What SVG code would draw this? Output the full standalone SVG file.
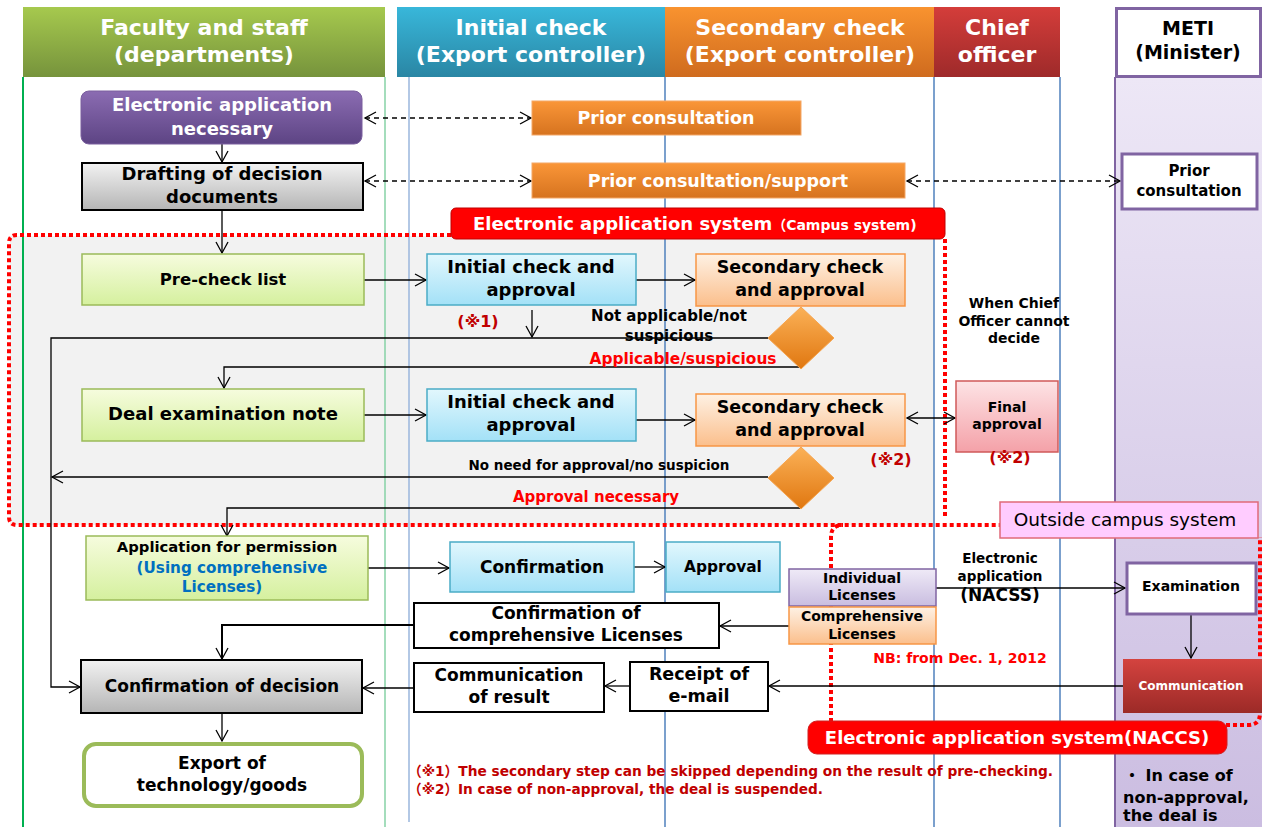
<svg xmlns="http://www.w3.org/2000/svg" width="1262" height="827" viewBox="0 0 1262 827">
<defs>
<linearGradient id="gHFac" x1="0" y1="0" x2="0" y2="1"><stop offset="0" stop-color="#a6c94e"/><stop offset="1" stop-color="#76933c"/></linearGradient>
<linearGradient id="gHIni" x1="0" y1="0" x2="0" y2="1"><stop offset="0" stop-color="#38b7da"/><stop offset="1" stop-color="#2a86a4"/></linearGradient>
<linearGradient id="gHSec" x1="0" y1="0" x2="0" y2="1"><stop offset="0" stop-color="#f9932f"/><stop offset="1" stop-color="#cf6b1e"/></linearGradient>
<linearGradient id="gHChi" x1="0" y1="0" x2="0" y2="1"><stop offset="0" stop-color="#d43d3a"/><stop offset="1" stop-color="#9e2a2a"/></linearGradient>
<linearGradient id="gMeti" x1="0" y1="0" x2="0" y2="1"><stop offset="0" stop-color="#ede7f6"/><stop offset="1" stop-color="#cbbde1"/></linearGradient>
<linearGradient id="gPurple" x1="0" y1="0" x2="0" y2="1"><stop offset="0" stop-color="#8b6cb2"/><stop offset="1" stop-color="#5d4484"/></linearGradient>
<linearGradient id="gGray" x1="0" y1="0" x2="0" y2="1"><stop offset="0" stop-color="#f2f2f2"/><stop offset="1" stop-color="#b5b5b5"/></linearGradient>
<linearGradient id="gOrange" x1="0" y1="0" x2="0" y2="1"><stop offset="0" stop-color="#fa9638"/><stop offset="1" stop-color="#d6731f"/></linearGradient>
<linearGradient id="gBlue" x1="0" y1="0" x2="0" y2="1"><stop offset="0" stop-color="#e2f7fd"/><stop offset="1" stop-color="#a3e1f7"/></linearGradient>
<linearGradient id="gOrL" x1="0" y1="0" x2="0" y2="1"><stop offset="0" stop-color="#fef1e4"/><stop offset="1" stop-color="#fbbf8c"/></linearGradient>
<linearGradient id="gGreen" x1="0" y1="0" x2="0" y2="1"><stop offset="0" stop-color="#f6fcde"/><stop offset="1" stop-color="#d5f09e"/></linearGradient>
<linearGradient id="gPink" x1="0" y1="0" x2="0" y2="1"><stop offset="0" stop-color="#fde3e5"/><stop offset="1" stop-color="#f4a1a8"/></linearGradient>
<linearGradient id="gPurL" x1="0" y1="0" x2="0" y2="1"><stop offset="0" stop-color="#efeaf7"/><stop offset="1" stop-color="#c9bde0"/></linearGradient>
<linearGradient id="gRed" x1="0" y1="0" x2="0" y2="1"><stop offset="0" stop-color="#d4433f"/><stop offset="1" stop-color="#9c2a27"/></linearGradient>
<linearGradient id="gDia" x1="0" y1="0" x2="0" y2="1"><stop offset="0" stop-color="#fbb157"/><stop offset="1" stop-color="#e07710"/></linearGradient>
<marker id="arr" markerWidth="14" markerHeight="14" refX="12" refY="7" orient="auto-start-reverse" markerUnits="userSpaceOnUse">
<path d="M1,1 L12,7 L1,13" fill="none" stroke="#000" stroke-width="1.3" stroke-dasharray="none"/>
</marker>
<style>
text{font-family:"DejaVu Sans","Noto Sans CJK JP",sans-serif;font-weight:bold;text-anchor:middle;fill:#000}
.hd{fill:#fff;font-size:22px}
.s18{font-size:18px}
.s17{font-size:17px}
.s15{font-size:15px}
.s14{font-size:14px}
.w{fill:#fff}
.red{fill:#ff0000}
.dred{fill:#c00000}
.con{fill:none;stroke:#000;stroke-width:1.3}
.arr{marker-end:url(#arr)}
.dash{stroke-dasharray:5 4;marker-start:url(#arr);marker-end:url(#arr)}
.lane{stroke-width:1.5}
.dot{fill:none;stroke:#ff0000;stroke-width:4;stroke-dasharray:4 3}
</style>
</defs>

<!-- lanes -->
<g id="lanes">
<rect x="1115" y="77" width="147" height="750" fill="url(#gMeti)"/>
<rect x="10" y="236" width="924" height="289" fill="#f2f2f2"/>
<line x1="23" y1="77" x2="23" y2="827" stroke="#00b050" stroke-width="2"/>
<line x1="385" y1="77" x2="385" y2="827" stroke="#86d2a6" class="lane"/>
<line x1="409" y1="60" x2="409" y2="822" stroke="#9ab6dc" class="lane"/>
<line x1="665" y1="77" x2="665" y2="827" stroke="#4f81bd" class="lane"/>
<line x1="934" y1="77" x2="934" y2="827" stroke="#4f81bd" class="lane"/>
<line x1="1060" y1="77" x2="1060" y2="827" stroke="#4f81bd" class="lane"/>
<line x1="1115" y1="77" x2="1115" y2="827" stroke="#8064a2" stroke-width="2"/>
</g>
<g id="hdr-faculty"><rect x="23" y="7" width="362" height="70" fill="url(#gHFac)"/><text class="hd" x="204" y="35">Faculty and staff</text><text class="hd" x="204" y="62">(departments)</text></g>
<g id="hdr-initial"><rect x="397" y="7" width="268" height="70" fill="url(#gHIni)"/><text class="hd" x="531" y="35">Initial check</text><text class="hd" x="531" y="62">(Export controller)</text></g>
<g id="hdr-secondary"><rect x="665" y="7" width="269" height="70" fill="url(#gHSec)"/><text class="hd" x="800" y="35">Secondary check</text><text class="hd" x="800" y="62">(Export controller)</text></g>
<g id="hdr-chief"><rect x="934" y="7" width="126" height="70" fill="url(#gHChi)"/><text class="hd" x="997" y="35">Chief</text><text class="hd" x="997" y="62">officer</text></g>
<g id="hdr-meti"><rect x="1116.5" y="8.5" width="144" height="68" fill="#fff" stroke="#8064a2" stroke-width="3"/><text x="1188" y="35" style="font-size:19px">METI</text><text x="1188" y="59" style="font-size:19px">(Minister)</text></g>

<!-- system regions -->
<g id="regions">
<path class="dot" d="M451,235 H17 Q9,235 9,243 V517 Q9,525 17,525 H1000"/>
<path class="dot" d="M945,239 V518"/>
<path class="dot" d="M831,722 V537 Q831,525 843,525"/>
<path class="dot" d="M1226,725 H1248 Q1260,725 1260,713 V537"/>
</g>

<!-- connectors -->
<g id="connectors">
<path class="con arr" d="M222,144 V162"/>
<path class="con arr" d="M222,210 V253"/>
<path class="con dash" d="M365,118 H531"/>
<path class="con dash" d="M365,181 H531"/>
<path class="con dash" d="M907,181 H1120"/>
<path class="con arr" d="M364,280 H426"/>
<path class="con arr" d="M636,280 H695"/>
<path class="con arr" d="M532,310 V337"/>
<path class="con arr" d="M768,338 H51 V687 H80"/>
<path class="con arr" d="M801,367 H224 V388"/>
<path class="con arr" d="M364,415 H426"/>
<path class="con arr" d="M636,420 H695"/>
<path class="con arr" d="M907,418 H955" style="marker-start:url(#arr)"/>
<path class="con arr" d="M768,477 H52"/>
<path class="con arr" d="M801,508 H227 V536"/>
<path class="con arr" d="M368,568 H449"/>
<path class="con arr" d="M634,567 H665"/>
<path class="con arr" d="M936,588 H1125"/>
<path class="con arr" d="M1191,614 V658"/>
<path class="con arr" d="M789,626 H720"/>
<path class="con arr" d="M414,625 H222 V659" style="stroke-width:2"/>
<path class="con arr" d="M1123,686 H769"/>
<path class="con arr" d="M630,686 H605"/>
<path class="con arr" d="M414,688 H363"/>
<path class="con arr" d="M222,713 V741"/>
</g>

<!-- nodes -->
<g id="n-elec-app"><rect x="81" y="91" width="281" height="53" rx="8" fill="url(#gPurple)" stroke="#7a5f9e"/><text class="s18 w" x="222" y="111">Electronic application</text><text class="s18 w" x="222" y="135">necessary</text></g>
<g id="n-drafting"><rect x="82" y="163" width="281" height="47" fill="url(#gGray)" stroke="#000" stroke-width="2"/><text class="s18" x="222" y="180">Drafting of decision</text><text class="s18" x="222" y="203">documents</text></g>
<g id="n-prior1"><rect x="532" y="101" width="269" height="34" fill="url(#gOrange)" stroke="#f4a766"/><text class="w" x="666" y="124" style="font-size:17.5px">Prior consultation</text></g>
<g id="n-prior2"><rect x="532" y="163" width="373" height="35" fill="url(#gOrange)" stroke="#f4a766"/><text class="w" x="718" y="187" style="font-size:17.5px">Prior consultation/support</text></g>
<g id="n-meti-prior"><rect x="1122" y="154" width="135" height="55" fill="#fff" stroke="#8064a2" stroke-width="3"/><text class="s15" x="1189" y="176">Prior</text><text class="s15" x="1189" y="196">consultation</text></g>
<g id="n-campus-label"><rect x="451" y="208" width="494" height="31" rx="5" fill="#ff0000" stroke="#c00000"/><text class="s18 w" x="473" y="230" style="text-anchor:start">Electronic application system<tspan style="font-size:14px">（Campus system)</tspan></text></g>

<g id="n-precheck"><rect x="82" y="254" width="282" height="51" fill="url(#gGreen)" stroke="#9bbb59" stroke-width="1.5"/><text x="223" y="285" style="font-size:16.5px">Pre-check list</text></g>
<g id="n-init1"><rect x="427" y="254" width="209" height="51" fill="url(#gBlue)" stroke="#4bacc6" stroke-width="1.5"/><text class="s18" x="531" y="273">Initial check and</text><text class="s18" x="531" y="296">approval</text></g>
<g id="n-sec1"><rect x="696" y="254" width="209" height="52" fill="url(#gOrL)" stroke="#f79646" stroke-width="1.5"/><text x="800" y="273" style="font-size:17.5px">Secondary check</text><text x="800" y="296" style="font-size:17.5px">and approval</text></g>
<g id="n-dia1"><path d="M801,307 L834,338 L801,369 L768,338 Z" fill="url(#gDia)" stroke="#f6a550"/></g>
<g id="n-deal"><rect x="82" y="389" width="282" height="52" fill="url(#gGreen)" stroke="#9bbb59" stroke-width="1.5"/><text class="s18" x="223" y="420">Deal examination note</text></g>
<g id="n-init2"><rect x="427" y="389" width="209" height="52" fill="url(#gBlue)" stroke="#4bacc6" stroke-width="1.5"/><text class="s18" x="531" y="408">Initial check and</text><text class="s18" x="531" y="431">approval</text></g>
<g id="n-sec2"><rect x="696" y="394" width="209" height="52" fill="url(#gOrL)" stroke="#f79646" stroke-width="1.5"/><text x="800" y="413" style="font-size:17.5px">Secondary check</text><text x="800" y="436" style="font-size:17.5px">and approval</text></g>
<g id="n-dia2"><path d="M801,447 L834,478 L801,509 L768,478 Z" fill="url(#gDia)" stroke="#f6a550"/></g>
<g id="n-final"><rect x="956" y="381" width="102" height="71" fill="url(#gPink)" stroke="#d05a5a" stroke-width="1.5"/><text class="s14" x="1007" y="412">Final</text><text class="s14" x="1007" y="429">approval</text></g>

<g id="n-outside"><rect x="1000" y="502" width="258" height="36" fill="#ffccff" stroke="#e06a7a" stroke-width="1.5"/><text x="1125" y="526" style="font-size:18.5px;font-weight:normal">Outside campus system</text></g>

<g id="n-appperm"><rect x="86" y="536" width="282" height="64" fill="url(#gGreen)" stroke="#9bbb59" stroke-width="1.5"/><text x="227" y="552" style="font-size:14.8px">Application for permission</text><text x="232" y="573" fill="#0070c0" style="fill:#0070c0;font-size:15.2px">(Using comprehensive</text><text x="222" y="592" style="fill:#0070c0;font-size:15.2px">Licenses)</text></g>
<g id="n-confirm"><rect x="450" y="542" width="184" height="50" fill="url(#gBlue)" stroke="#4bacc6" stroke-width="1.5"/><text class="s17" x="542" y="573">Confirmation</text></g>
<g id="n-approval"><rect x="666" y="542" width="114" height="50" fill="url(#gBlue)" stroke="#4bacc6" stroke-width="1.5"/><text x="723" y="572" style="font-size:15.4px">Approval</text></g>
<g id="n-indiv"><rect x="789" y="569" width="147" height="37" fill="url(#gPurL)" stroke="#8064a2" stroke-width="1.5"/><text class="s14" x="862" y="583">Individual</text><text class="s14" x="862" y="600">Licenses</text></g>
<g id="n-compr"><rect x="789" y="607" width="147" height="37" fill="url(#gOrL)" stroke="#f79646" stroke-width="1.5"/><text class="s14" x="862" y="621">Comprehensive</text><text class="s14" x="862" y="639">Licenses</text></g>
<g id="n-exam"><rect x="1127" y="563" width="129" height="51" fill="#fff" stroke="#8064a2" stroke-width="3"/><text class="s14" x="1191" y="591">Examination</text></g>
<g id="n-confcomp"><rect x="414" y="603" width="305" height="45" fill="#fff" stroke="#000" stroke-width="2"/><text class="s17" x="566" y="619">Confirmation of</text><text class="s17" x="566" y="641">comprehensive Licenses</text></g>
<g id="n-comm"><rect x="1123" y="659" width="139" height="54" fill="url(#gRed)"/><text class="w" x="1191" y="690" style="font-size:12px">Communication</text></g>
<g id="n-receipt"><rect x="630" y="662" width="138" height="49" fill="#fff" stroke="#000" stroke-width="2"/><text x="699" y="680" style="font-size:17.5px">Receipt of</text><text x="699" y="702" style="font-size:17.5px">e-mail</text></g>
<g id="n-commres"><rect x="414" y="663" width="190" height="49" fill="#fff" stroke="#000" stroke-width="2"/><text class="s17" x="509" y="681">Communication</text><text class="s17" x="509" y="703">of result</text></g>
<g id="n-confdec"><rect x="81" y="660" width="281" height="53" fill="url(#gGray)" stroke="#000" stroke-width="2"/><text class="s17" x="222" y="692">Confirmation of decision</text></g>
<g id="n-export"><rect x="84" y="744" width="278" height="62" rx="12" fill="#fff" stroke="#9bbb59" stroke-width="4"/><text class="s17" x="222" y="769">Export of</text><text class="s17" x="222" y="791">technology/goods</text></g>
<g id="n-naccs"><rect x="808" y="721" width="419" height="33" rx="9" fill="#ff0000" stroke="#d02020"/><text class="s18 w" x="1017" y="744">Electronic application system(NACCS)</text></g>

<!-- labels -->
<g id="labels">
<text class="dred" x="478" y="327" style="font-size:16px">(※1)</text>
<text class="s15" x="669" y="321">Not applicable/not</text>
<text class="s15" x="669" y="341">suspicious</text>
<text class="red" x="683" y="364" style="font-size:15.4px">Applicable/suspicious</text>
<text class="s14" x="1014" y="308">When Chief</text>
<text class="s14" x="1014" y="326">Officer cannot</text>
<text class="s14" x="1014" y="343">decide</text>
<text class="dred" x="891" y="465" style="font-size:16px">(※2)</text>
<text class="dred" x="1010" y="463" style="font-size:16px">(※2)</text>
<text x="599" y="470" style="font-size:13.5px">No need for approval/no suspicion</text>
<text class="red" x="596" y="502" style="font-size:15px">Approval necessary</text>
<text x="1000" y="563" style="font-size:13.5px">Electronic</text>
<text x="1000" y="581" style="font-size:13.5px">application</text>
<text x="1000" y="601" class="s17">(NACSS)</text>
<text class="red" x="960" y="663" style="font-size:14px">NB: from Dec. 1, 2012</text>
<text class="dred" x="408" y="776" style="font-size:14px;text-anchor:start" textLength="645" lengthAdjust="spacingAndGlyphs">（※1）The secondary step can be skipped depending on the result of pre-checking.</text>
<text class="dred" x="408" y="794" style="font-size:14px;text-anchor:start" textLength="415" lengthAdjust="spacingAndGlyphs">（※2）In case of non-approval, the deal is suspended.</text>
<text x="1124" y="781" style="font-size:16px;text-anchor:start">・ In case of</text>
<text x="1123" y="803" style="font-size:16px;text-anchor:start">non-approval,</text>
<text x="1123" y="821" style="font-size:16px;text-anchor:start">the deal is</text>
</g>
</svg>
